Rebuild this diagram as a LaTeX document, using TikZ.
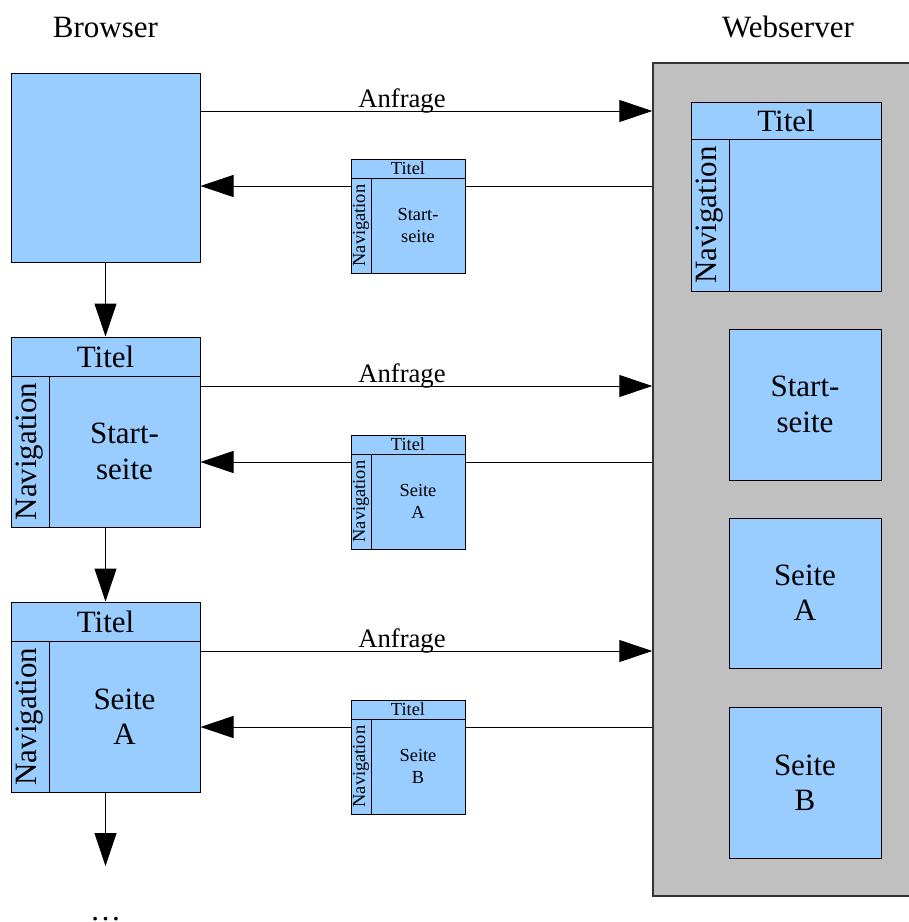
\documentclass[tikz,border=0pt]{standalone}
\usepackage{fontspec}
\setmainfont{Liberation Serif}
\usetikzlibrary{arrows.meta,fit}
\definecolor{boxblue}{HTML}{99CCFF}
\definecolor{srvgray}{HTML}{C0C0C0}
\definecolor{srvline}{HTML}{333333}
\newcommand\wpage[9]{%
  \node[pagebox, fit={(#2,#3) (#4,#5)}] (#1) {};
  \draw[divline] (#2,#6) -- (#4,#6);
  \draw[divline] (#7,#6) -- (#7,#5);
  \node[#8, txt] (#1-t) at ({(#2+#4)/2},{(#3+#6)/2}) {Titel};
  \node[#8, txt, rotate=90] (#1-n) at ({(#2+#7)/2},{(#6+#5)/2}) {Navigation};
  \node[#8, txt] (#1-c) at ({(#7+#4)/2},{(#6+#5)/2}) {#9};
}
\begin{document}
\begin{tikzpicture}[x=0.75pt,y=-0.75pt,
  bigtxt/.style={font=\fontsize{23.25pt}{26.5pt}\selectfont},
  smalltxt/.style={font=\fontsize{13.8pt}{16pt}\selectfont},
  reqtxt/.style={font=\fontsize{20pt}{24pt}\selectfont},
  pagebox/.style={draw=black, fill=boxblue, line width=0.75pt, inner sep=0pt},
  divline/.style={draw=black, line width=0.75pt},
  arr/.style={draw=black, line width=0.75pt, -{Triangle[length=24.75pt,width=16.5pt]}},
  txt/.style={inner sep=0pt, align=center}]
\useasboundingbox (0,0) rectangle (908,922);

% headings
\node[bigtxt, anchor=base] (hb) at (105.5,37) {Browser};
\node[bigtxt, anchor=base] (hw) at (788,37) {Webserver};

% webserver
\node[fit={(653,63) (914,896)}, draw=srvline, fill=srvgray, line width=1.1pt, inner sep=0pt] (srv) {};
\wpage{tpl}{691}{102}{881}{291}{139}{729}{bigtxt}{}
\node[pagebox, fit={(729,329) (881,480)}] (ps) {};
\node[bigtxt, txt] (pst) at (ps.center) {Start-\\seite};
\node[pagebox, fit={(729,518) (881,668)}] (pa) {};
\node[bigtxt, txt] (pat) at (pa.center) {Seite\\A};
\node[pagebox, fit={(729,707) (881,858)}] (pb) {};
\node[bigtxt, txt] (pbt) at (pb.center) {Seite\\B};

% browser
\node[pagebox, fit={(11,73) (200,262)}] (b1) {};
\wpage{b2}{11}{337}{200}{527}{376}{49}{bigtxt}{Start-\\seite}
\wpage{b3}{11}{602}{200}{792}{641}{49}{bigtxt}{Seite\\A}

\coordinate (more) at (105.5,866);
\draw[arr] (b1) -- (b2);
\draw[arr] (b2) -- (b3);
\draw[arr] (b3) -- (more);
\node[bigtxt, anchor=base, inner sep=0pt] (dots) at (105.5,920) {…};

% requests and responses
\coordinate (a1) at (0,111);
\coordinate (r1) at (0,186);
\coordinate (a2) at (0,386);
\coordinate (r2) at (0,462);
\coordinate (a3) at (0,651);
\coordinate (r3) at (0,727);

\draw[arr] (b1.east |- a1) -- node[reqtxt, pos=0.446, anchor=base, yshift=3pt] (q1) {Anfrage} (srv.west |- a1);
\draw[arr] (b2.east |- a2) -- node[reqtxt, pos=0.446, anchor=base, yshift=3pt] (q2) {Anfrage} (srv.west |- a2);
\draw[arr] (b3.east |- a3) -- node[reqtxt, pos=0.446, anchor=base, yshift=3pt] (q3) {Anfrage} (srv.west |- a3);

\draw[arr] (srv.west |- r1) -- (b1.east |- r1);
\draw[arr] (srv.west |- r2) -- (b2.east |- r2);
\draw[arr] (srv.west |- r3) -- (b3.east |- r3);

\wpage{s1}{351}{159}{465}{273}{178}{371}{smalltxt}{Start-\\seite}
\wpage{s2}{351}{435}{465}{549}{454}{371}{smalltxt}{Seite\\A}
\wpage{s3}{351}{700}{465}{814}{719}{371}{smalltxt}{Seite\\B}
\end{tikzpicture}
\end{document}
